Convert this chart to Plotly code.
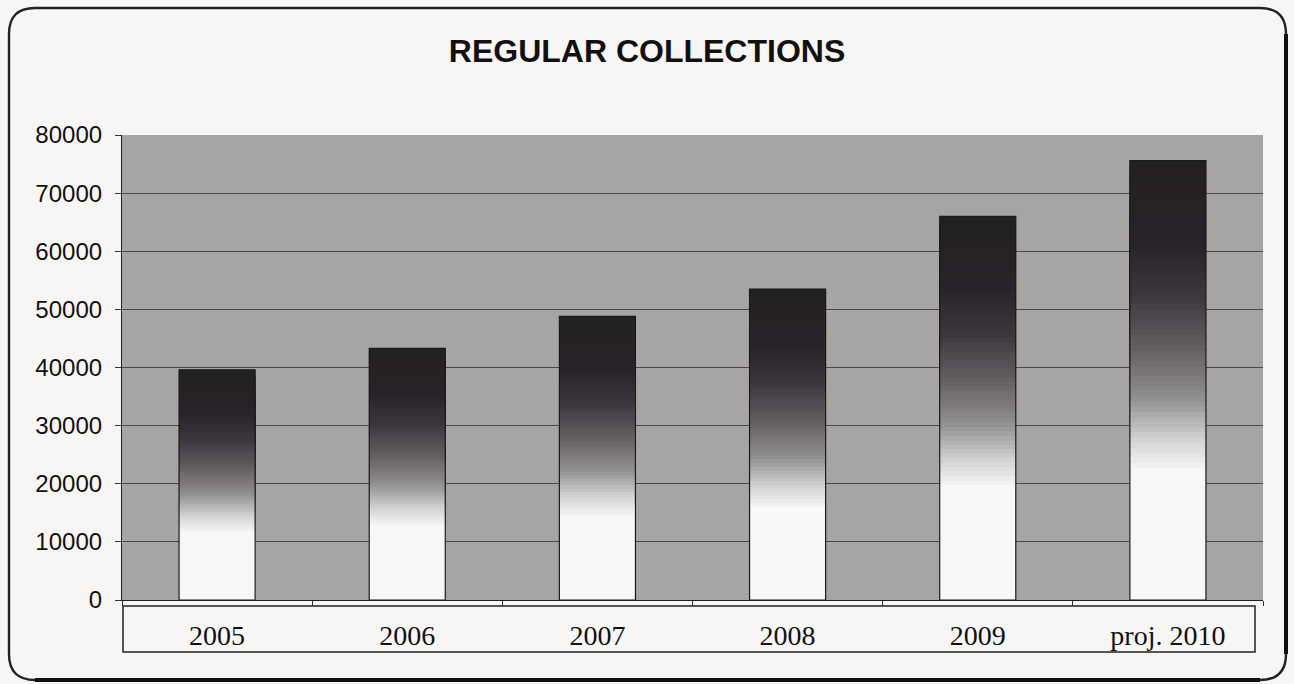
import plotly.graph_objects as go

# ---- data ----
categories = ["2005", "2006", "2007", "2008", "2009", "proj. 2010"]
collections = [39600, 43300, 48800, 53500, 66000, 75600]
y_ticks = [0, 10000, 20000, 30000, 40000, 50000, 60000, 70000, 80000]

W, H = 1294, 684
L, R, T, B = 122, 1263, 135, 600   # plot area in pixels

def px(x):
    return (x - L) / (R - L)

def py(y):
    return (B - y) / (B - T)

# gradient stops (fraction of bar height -> grey level)
stops = [(1.00, (35, 32, 35)), (0.82, (40, 35, 40)), (0.70, (62, 54, 62)),
         (0.58, (100, 94, 98)), (0.46, (148, 146, 146)), (0.37, (212, 210, 210)),
         (0.30, (248, 246, 246))]

def color_at(f):
    for (f1, c1), (f2, c2) in zip(stops[:-1], stops[1:]):
        if f2 <= f <= f1:
            t = (f1 - f) / (f1 - f2)
            c = [round(a + (b - a) * t) for a, b in zip(c1, c2)]
            return "rgb(%d,%d,%d)" % tuple(c)
    return "rgb(%d,%d,%d)" % stops[-1][1]

fig = go.Figure()

n = 60
f_low = stops[-1][0]
for i in range(n + 1):
    f = 1.0 - (1.0 - f_low) * i / n
    fig.add_trace(go.Bar(
        x=categories, y=[v * f for v in collections],
        marker=dict(color=color_at(f), line=dict(width=0)),
        hoverinfo="skip", showlegend=False,
    ))

fig.add_trace(go.Bar(
    x=categories, y=collections,
    marker=dict(color="rgba(0,0,0,0)", line=dict(color="#1a1a1a", width=1.2)),
    showlegend=False, name="Regular collections",
))

shapes = []
# category label box
shapes.append(dict(type="rect", xref="paper", yref="paper",
                   x0=px(123), x1=px(1255), y0=py(652), y1=py(606),
                   line=dict(color="#222", width=1.5), fillcolor="rgba(0,0,0,0)"))
# outer rounded frame
x0, x1, y0, y1, r = 9, 1286, 8, 680, 26
path = (f"M {px(x0+r)},{py(y0)} L {px(x1-r)},{py(y0)} "
        f"Q {px(x1)},{py(y0)} {px(x1)},{py(y0+r)} "
        f"L {px(x1)},{py(y1-r)} Q {px(x1)},{py(y1)} {px(x1-r)},{py(y1)} "
        f"L {px(x0+r)},{py(y1)} Q {px(x0)},{py(y1)} {px(x0)},{py(y1-r)} "
        f"L {px(x0)},{py(y0+r)} Q {px(x0)},{py(y0)} {px(x0+r)},{py(y0)} Z")
shapes.append(dict(type="path", xref="paper", yref="paper", path=path,
                   line=dict(color="#222", width=2.4), layer="below"))
# heavier right / bottom edge (shadow look)
shapes.append(dict(type="line", xref="paper", yref="paper",
                   x0=px(x1), x1=px(x1), y0=py(y0 + r), y1=py(y1 - r),
                   line=dict(color="#111", width=4)))
shapes.append(dict(type="line", xref="paper", yref="paper",
                   x0=px(x0 + r), x1=px(x1 - r), y0=py(y1), y1=py(y1),
                   line=dict(color="#111", width=4)))

fig.update_layout(
    width=W, height=H,
    margin=dict(l=L, r=W - R, t=T, b=H - B),
    paper_bgcolor="#f8f6f5",
    plot_bgcolor="#a7a4a4",
    barmode="overlay",
    bargap=0.6,
    title=dict(text="<b>REGULAR COLLECTIONS</b>", x=0.5, xanchor="center",
               y=1 - 51 / H, yanchor="middle", yref="container",
               font=dict(family="Liberation Sans, Arial", size=32, color="#111")),
    shapes=shapes,
    xaxis=dict(
        type="category", showgrid=False, showline=True, linecolor="#222", linewidth=1.2,
        ticks="outside", tickson="boundaries", ticklen=5, tickcolor="#333",
        tickfont=dict(family="Liberation Serif, Times New Roman", size=28, color="#111"),
        ticklabelstandoff=10,
    ),
    yaxis=dict(
        range=[0, 80000], tickvals=y_ticks, tickformat="d", showgrid=True,
        gridcolor="#4a4848", gridwidth=1,
        showline=True, linecolor="#222", linewidth=1.2, ticks="outside", ticklen=6,
        tickcolor="#333", zeroline=False, ticklabelstandoff=8,
        tickfont=dict(family="Liberation Sans, Arial", size=24, color="#111"),
    ),
)

fig.write_html("out.html", config={"displayModeBar": False},
               post_script="document.body.style.margin='0';")
